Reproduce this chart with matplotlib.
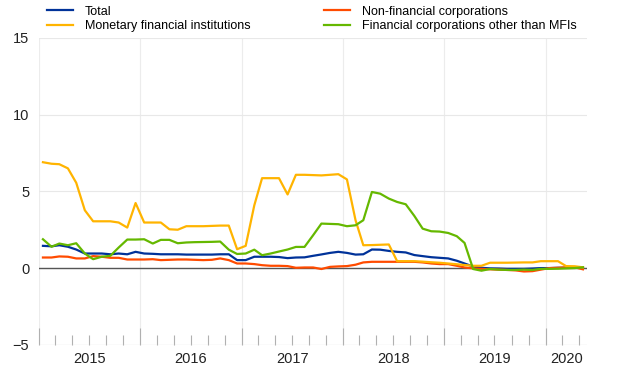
import numpy as np
import pandas as pd
import matplotlib
matplotlib.use("Agg")
import matplotlib.pyplot as plt
import matplotlib.dates as mdates
import matplotlib.transforms as mtransforms

plt.rcParams['font.family'] = ['Liberation Sans', 'DejaVu Sans']

# monthly observations, Jan 2015 - May 2020 (plotted mid-month)
months = pd.date_range('2015-01-01', '2020-05-01', freq='MS') + pd.Timedelta(days=14)

total = [1.45, 1.42, 1.49, 1.39, 1.21, 0.95, 0.95, 0.95, 0.90, 0.95, 0.90, 1.06,
         0.95, 0.93, 0.90, 0.90, 0.90, 0.88, 0.88, 0.88, 0.88, 0.90, 0.90, 0.52,
         0.52, 0.74, 0.74, 0.74, 0.72, 0.65, 0.69, 0.70, 0.80, 0.89, 0.99, 1.06,
         0.99, 0.88, 0.90, 1.21, 1.20, 1.12, 1.06, 1.02, 0.85, 0.78, 0.71, 0.67,
         0.63, 0.48, 0.30, 0.10, 0.02, -0.02, -0.03, -0.05, -0.05, -0.05, -0.03, 0.00,
         0.00, 0.02, 0.02, 0.02, 0.03]

nfc = [0.69, 0.69, 0.76, 0.74, 0.63, 0.63, 0.78, 0.74, 0.67, 0.67, 0.56, 0.56,
       0.56, 0.58, 0.52, 0.54, 0.56, 0.56, 0.54, 0.52, 0.54, 0.63, 0.52, 0.30,
       0.30, 0.26, 0.19, 0.15, 0.15, 0.13, 0.02, 0.04, 0.04, -0.06, 0.08, 0.11,
       0.13, 0.22, 0.37, 0.41, 0.41, 0.41, 0.41, 0.41, 0.41, 0.37, 0.30, 0.26,
       0.26, 0.15, 0.04, -0.02, -0.05, -0.08, -0.10, -0.12, -0.15, -0.22, -0.20, -0.10,
       0.00, 0.02, 0.05, 0.05, -0.08]

mfi = [6.90, 6.80, 6.77, 6.50, 5.56, 3.77, 3.05, 3.05, 3.05, 2.97, 2.64, 4.24,
       2.97, 2.97, 2.97, 2.53, 2.50, 2.73, 2.73, 2.73, 2.75, 2.77, 2.77, 1.23,
       1.45, 4.09, 5.86, 5.86, 5.86, 4.80, 6.08, 6.08, 6.06, 6.04, 6.08, 6.12,
       5.78, 3.12, 1.49, 1.50, 1.52, 1.54, 0.45, 0.45, 0.45, 0.42, 0.38, 0.35,
       0.30, 0.25, 0.20, 0.15, 0.15, 0.35, 0.35, 0.35, 0.36, 0.37, 0.37, 0.45,
       0.45, 0.45, 0.13, 0.12, 0.05]

ofc = [1.88, 1.39, 1.60, 1.49, 1.62, 0.95, 0.58, 0.74, 0.80, 1.34, 1.86, 1.86,
       1.88, 1.60, 1.84, 1.84, 1.62, 1.67, 1.69, 1.70, 1.71, 1.73, 1.20, 0.92,
       0.95, 1.20, 0.84, 0.95, 1.08, 1.21, 1.38, 1.38, 2.14, 2.90, 2.88, 2.86,
       2.73, 2.79, 3.12, 4.96, 4.85, 4.53, 4.31, 4.16, 3.40, 2.57, 2.40, 2.38,
       2.29, 2.08, 1.64, -0.06, -0.17, -0.06, -0.10, -0.12, -0.12, -0.10, -0.12, -0.05,
       -0.05, -0.04, -0.02, 0.00, 0.05]

years = [2015, 2016, 2017, 2018, 2019, 2020]
x_end = pd.Timestamp('2020-05-30')

fig = plt.figure(figsize=(6.2, 3.87), dpi=100)
ax = fig.add_axes([0.063, 0.109, 0.884, 0.793])

ax.plot(months, total, color='#003299', lw=1.6, label='Total', zorder=3)
ax.plot(months, nfc, color='#ff4b00', lw=1.6, label='Non-financial corporations', zorder=3)
ax.plot(months, mfi, color='#ffb400', lw=1.6, label='Monetary financial institutions', zorder=3)
ax.plot(months, ofc, color='#65b800', lw=1.6, label='Financial corporations other than MFIs', zorder=3)
ax.axhline(0, color='#555555', lw=1.0, zorder=2)

ax.set_ylim(-5, 15)
ax.set_yticks([-5, 0, 5, 10, 15])
ax.set_xlim(pd.Timestamp('2015-01-01'), x_end)

for s in ax.spines.values():
    s.set_visible(False)
ax.grid(axis='y', color='#e8e8e8', lw=0.8, zorder=0)
for y in years:
    ax.axvline(pd.Timestamp(f'{y}-01-01'), color='#ececec', lw=0.8, zorder=0)
ax.axhline(-5, color='#d5d5d5', lw=0.8, zorder=1)

ax.xaxis.set_major_locator(mdates.YearLocator())
ax.xaxis.set_minor_locator(mdates.MonthLocator(bymonth=[3, 5, 7, 9, 11]))
ax.xaxis.set_major_formatter(plt.NullFormatter())
ax.tick_params(axis='x', which='major', direction='in', length=12, color='#b0b0b0', width=0.8)
ax.tick_params(axis='x', which='minor', direction='in', length=7.5, color='#b0b0b0', width=0.8)
ax.tick_params(axis='y', length=0, pad=7, labelsize=10.5, colors='#222222')

trans = mtransforms.blended_transform_factory(ax.transData, ax.transAxes)
for y in years:
    start = pd.Timestamp(f'{y}-01-01')
    stop = min(pd.Timestamp(f'{y + 1}-01-01'), x_end)
    mid = start + (stop - start) / 2
    ax.text(mid, -0.022, str(y), transform=trans, ha='center', va='top',
            fontsize=10.5, color='#222222')

h, l = ax.get_legend_handles_labels()
order = [0, 2, 1, 3]
fig.legend([h[i] for i in order], [l[i] for i in order], ncol=2,
           loc='upper left', bbox_to_anchor=(0.075, 0.985), frameon=False,
           fontsize=9, handlelength=2.1, handletextpad=0.95,
           columnspacing=5.9, labelspacing=0.2, borderpad=0, borderaxespad=0)

fig.savefig('out.png', dpi=100)
